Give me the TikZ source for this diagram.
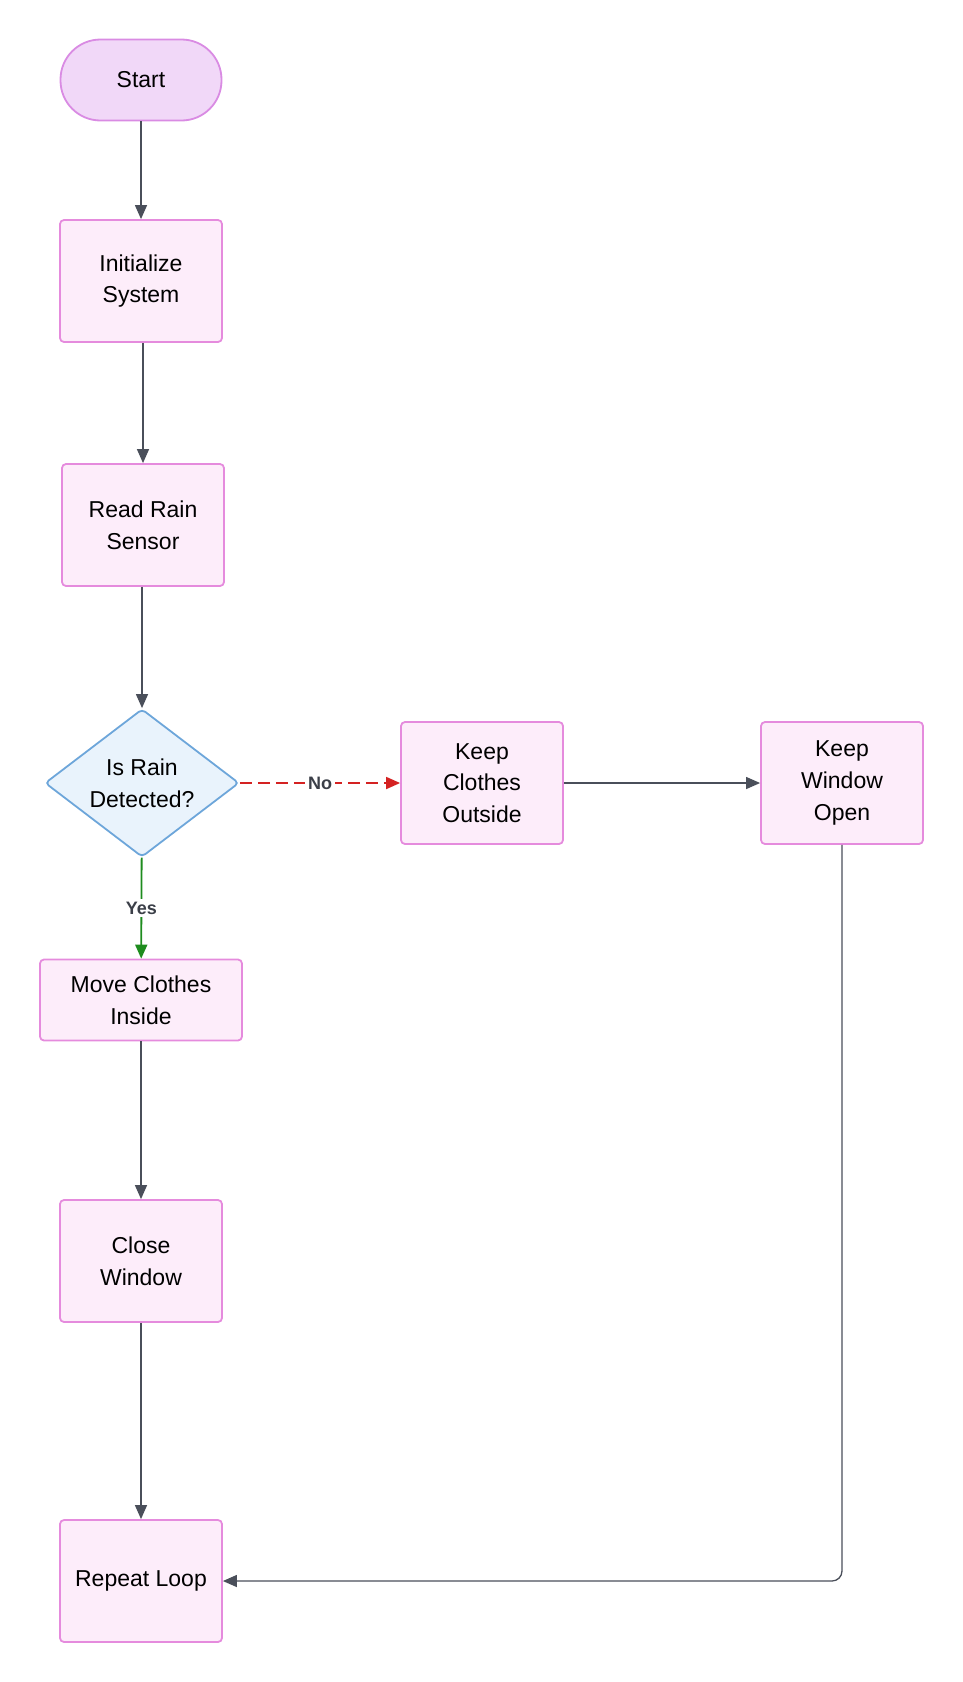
\documentclass[tikz,border=0pt]{standalone}
\usepackage{fontspec}
\setmainfont{Liberation Sans}
\usetikzlibrary{arrows.meta}
\usetikzlibrary{shapes.geometric}
\usetikzlibrary{positioning}
\definecolor{boxfill}{HTML}{FDEDFA}
\definecolor{boxline}{HTML}{E58BDD}
\definecolor{startfill}{HTML}{F1D8F8}
\definecolor{startline}{HTML}{D98BE3}
\definecolor{decfill}{HTML}{E9F3FC}
\definecolor{decline}{HTML}{6DA6DA}
\definecolor{flowgray}{HTML}{4A4F5A}
\definecolor{yesgreen}{HTML}{1E8C1E}
\definecolor{nored}{HTML}{D42222}
\definecolor{labelgray}{HTML}{3B3F48}
\tikzset{
    >={Triangle[length=7pt,width=6pt]},
    boxtext/.style={align=center, font=\fontsize{11.5}{15.8}\selectfont, text=black},
    process/.style={boxtext, draw=boxline, fill=boxfill, line width=0.9pt,
        rounded corners=2pt, minimum width=81pt, minimum height=61pt, inner sep=2pt},
    process short/.style={process, minimum width=101pt, minimum height=40.5pt},
    terminal/.style={boxtext, draw=startline, fill=startfill, line width=0.9pt,
        rounded corners=20pt, minimum width=80.5pt, minimum height=40.5pt},
    decision/.style={boxtext, diamond, draw=decline, fill=decfill, line width=0.9pt,
        rounded corners=2pt, minimum width=97pt, minimum height=74pt, inner sep=0pt, aspect=1.31},
    flow/.style={draw=flowgray, line width=0.65pt, ->},
    yesflow/.style={draw=yesgreen, line width=0.9pt, ->},
    noflow/.style={draw=nored, line width=0.9pt, dash pattern=on 6pt off 3pt, ->},
    edgelabel/.style={fill=white, inner sep=1.5pt, text=labelgray,
        font=\fontsize{9}{10}\selectfont\bfseries},
}
\begin{document}
\begin{tikzpicture}[x=0.5pt, y=-0.5pt]
\useasboundingbox (0,0) rectangle (963,1682);
% main column
\node[terminal] (start) at (141,80) {Start};
\node[process] (init) at (141,281) {Initialize\\System};
\node[process] (readsensor) at (143,525) {Read Rain\\Sensor};
\node[decision] (rain) at (142,783) {Is Rain\\Detected?};
\node[process short] (moveclothes) at (141,1000) {Move Clothes\\Inside};
\node[process] (closewin) at (141,1261) {Close\\Window};
\node[process] (repeatloop) at (141,1581) {Repeat Loop};
% no branch
\node[process] (keepclothes) at (482,783) {Keep\\Clothes\\Outside};
\node[process] (keepwin) at (842,783) {Keep\\Window\\Open};

\draw[flow] (start) -- (init);
\draw[flow] (init.south -| readsensor) -- (readsensor);
\draw[flow] (readsensor.south -| rain.north) -- (rain);
\draw[yesflow] (rain) -- node[edgelabel] {Yes} (moveclothes);
\draw[noflow] (rain) -- node[edgelabel] {No} (keepclothes);
\draw[flow] (moveclothes) -- (closewin);
\draw[flow] (closewin) -- (repeatloop);
\draw[flow] (keepclothes) -- (keepwin);
\draw[flow, rounded corners=5pt] (keepwin.south) |- (repeatloop.east);
\end{tikzpicture}
\end{document}
